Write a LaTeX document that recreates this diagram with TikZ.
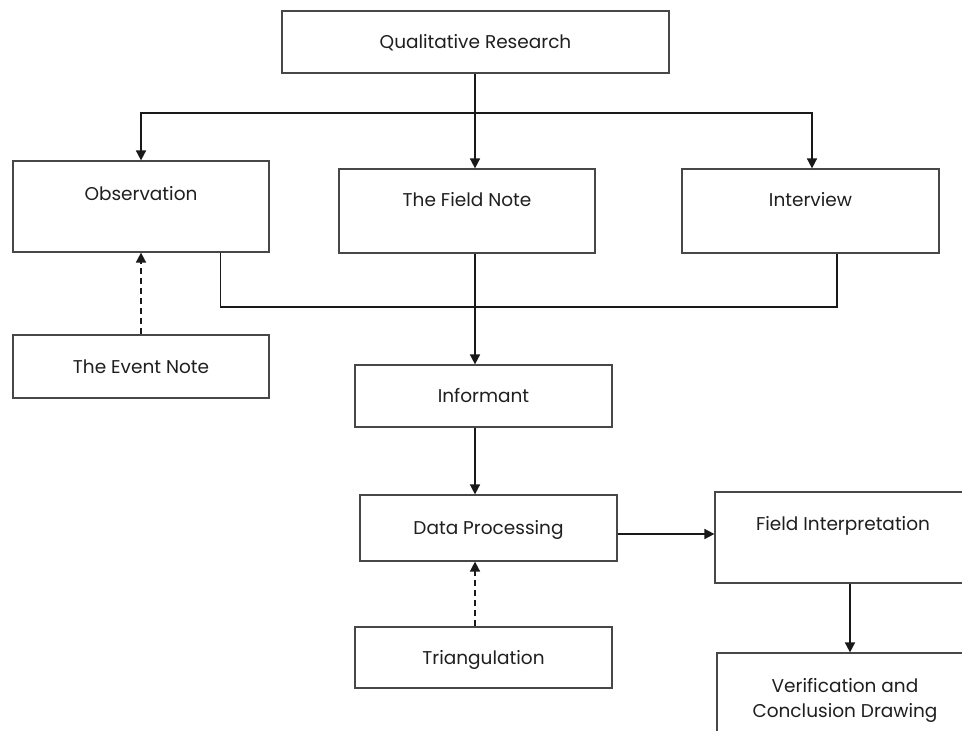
\documentclass[tikz,border=0pt]{standalone}
\usepackage{fontspec}
\setmainfont{Poppins}
\usetikzlibrary{arrows.meta}
\begin{document}
\begin{tikzpicture}[x=1pt,y=-1pt,
  box/.style={draw=black!72,line width=1.2pt,fill=white,inner sep=0pt,align=center,
    font=\fontsize{18.5}{25}\selectfont,text=black!88},
  arr/.style={draw=black!90,line width=1.6pt,-{Triangle[length=10pt,width=10pt]}},
  plain/.style={draw=black!90,line width=1.6pt},
  dsh/.style={arr,dash pattern=on 6pt off 4pt},
  up/.style={text height=16pt,text depth=#1},
  up/.default=3pt]
\clip (0,0) rectangle (962,731);
\fill[white] (0,0) rectangle (962,731);
\node[box,up,minimum width=387pt,minimum height=62pt] (qr) at (475.5,42) {Qualitative Research};
\node[box,minimum width=256pt,minimum height=91pt,up=29pt] (obs) at (141,206.5) {Observation};
\node[box,minimum width=256pt,minimum height=84pt,up=25pt] (fn) at (467,211) {The Field Note};
\node[box,minimum width=257pt,minimum height=84pt,up=25pt] (int) at (810.5,211) {Interview};
\node[box,up,minimum width=256pt,minimum height=63pt] (en) at (141,366.5) {The Event Note};
\node[box,up,minimum width=257pt,minimum height=62pt] (inf) at (483.5,396) {Informant};
\node[box,up,minimum width=257pt,minimum height=66pt] (dp) at (488.5,528) {Data Processing};
\node[box,minimum width=256pt,minimum height=91pt,up=31pt] (fi) at (843,537.5) {Field Interpretation};
\node[box,minimum width=256pt,minimum height=95pt] (ver) at (845,700.5) {Verification and\\Conclusion Drawing};
\node[box,up,minimum width=257pt,minimum height=61pt] (tri) at (483.5,657.5) {Triangulation};
\coordinate (split) at (475,113);
\coordinate (join) at (475,307);
% top distribution
\draw[plain] (qr.south -| split) -- (split);
\draw[arr] (split) -| (obs.north);
\draw[arr] (split) -| ([xshift=1.5pt]int.north);
\draw[arr] (split) -- (fn.north -| split);
% gathering line
\draw[plain] ([xshift=-49pt]obs.south east) |- (join) -| ([xshift=26.5pt]int.south);
\draw[arr] (fn.south -| split) -- (inf.north -| split);
\draw[dsh] (en.north) -- (obs.south);
\draw[arr] (inf.south -| split) -- (dp.north -| split);
\draw[arr] ([yshift=-6pt]dp.east) -- ([yshift=-6pt]dp.east -| fi.west);
\draw[arr] ([xshift=7pt]fi.south) -- ([xshift=5pt]ver.north);
\draw[dsh] (tri.north -| split) -- (dp.south -| split);
\end{tikzpicture}
\end{document}
